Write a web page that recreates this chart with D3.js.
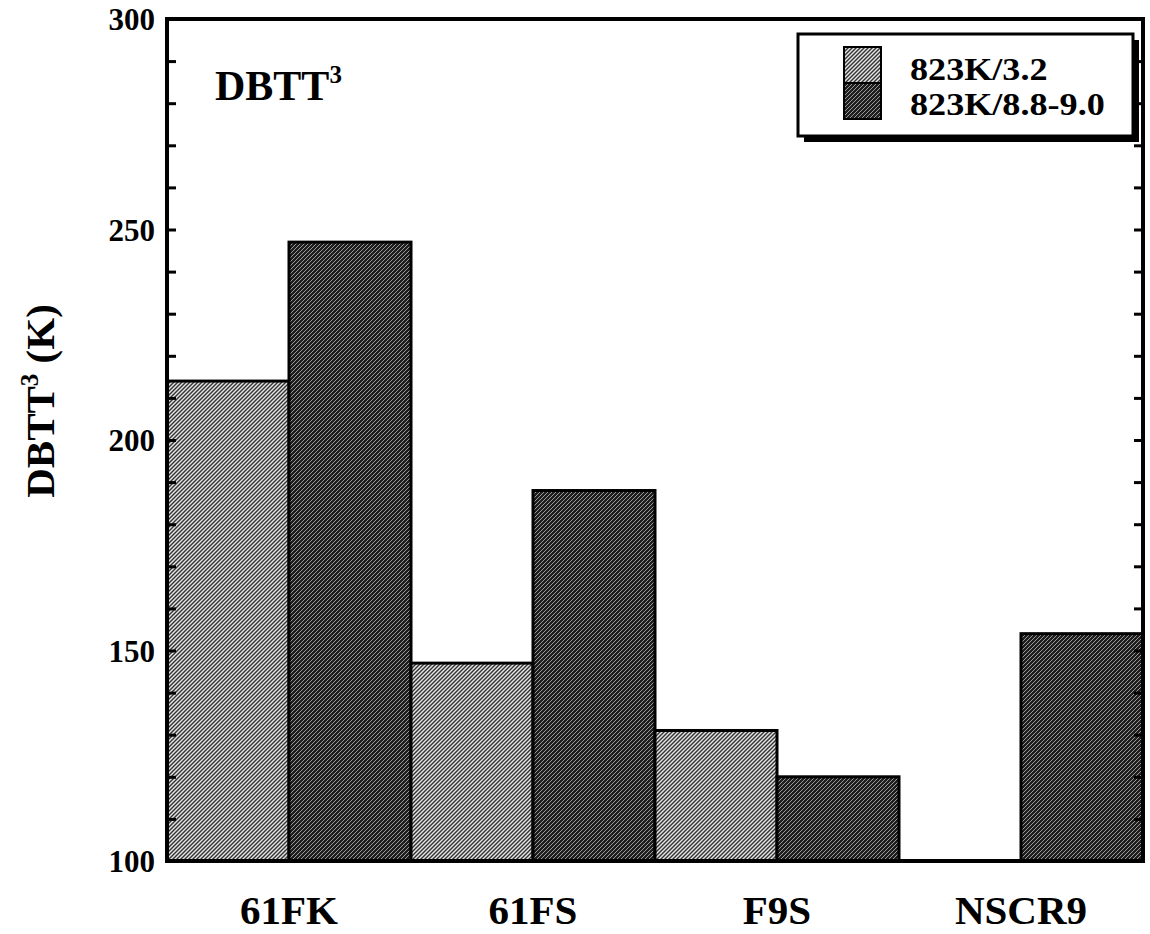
<!DOCTYPE html>
<html><head><meta charset="utf-8">
<script src="https://cdn.jsdelivr.net/npm/d3@7"></script>
<style>body{margin:0;background:#fff}</style>
</head><body>
<svg id="c" width="1150" height="934"></svg>
<script>
const categories = ["61FK","61FS","F9S","NSCR9"];
const seriesNames = ["823K/3.2","823K/8.8-9.0"];
const series1 = [214, 147, 131, null];
const series2 = [247, 188, 120, 154];
const yTicks = [100,150,200,250,300];

const svg = d3.select("#c");
const L=167, R=1143, T=19, B=861;
const font = "'Liberation Serif','Times New Roman',serif";

const defs = svg.append("defs");
function pat(id, bg, fg, sw){
  const p = defs.append("pattern").attr("id",id).attr("patternUnits","userSpaceOnUse")
    .attr("width",4).attr("height",4);
  p.append("rect").attr("width",4).attr("height",4).attr("fill",bg);
  p.append("path").attr("d","M-1,1 l2,-2 M0,4 l4,-4 M3,5 l2,-2").attr("stroke",fg).attr("stroke-width",sw);
}
pat("pLight","#e4e4e4","#333",1.4);
pat("pDark","#1e1e1e","#9a9a9a",1.0);
const fills = ["url(#pLight)","url(#pDark)"];

const x0 = d3.scaleBand().domain(categories).range([L,R]).padding(0);
const x1 = d3.scaleBand().domain([0,1]).range([0,x0.bandwidth()]).padding(0);
const y = d3.scaleLinear().domain([100,300]).range([B,T]);

const data = [];
categories.forEach((c,i)=>{
  [series1,series2].forEach((s,j)=>{ if(s[i]!=null) data.push({c, j, v:s[i]}); });
});
svg.append("g").selectAll("rect").data(data).join("rect")
  .attr("x",d=>x0(d.c)+x1(d.j)).attr("width",x1.bandwidth())
  .attr("y",d=>y(d.v)).attr("height",d=>y(100)-y(d.v))
  .attr("fill",d=>fills[d.j]).attr("stroke","#000").attr("stroke-width",3);

// frame
svg.append("rect").attr("x",L).attr("y",T).attr("width",R-L).attr("height",B-T)
  .attr("fill","none").attr("stroke","#000").attr("stroke-width",4);

// ticks inward on both sides
const minor = d3.range(100,301,10);
const yl = d3.axisRight(y).tickValues(minor).tickSize(9).tickFormat("");
svg.append("g").attr("transform",`translate(${L},0)`).call(yl)
  .call(g=>{g.select(".domain").remove(); g.selectAll("line").attr("stroke","#000").attr("stroke-width",3);});
const yr = d3.axisLeft(y).tickValues(minor).tickSize(9).tickFormat("");
svg.append("g").attr("transform",`translate(${R},0)`).call(yr)
  .call(g=>{g.select(".domain").remove(); g.selectAll("line").attr("stroke","#000").attr("stroke-width",3);});
// tick labels
const ya = d3.axisLeft(y).tickValues(yTicks).tickSize(0).tickPadding(12).tickFormat(d3.format("d"));
svg.append("g").attr("transform",`translate(${L},0)`).call(ya)
  .call(g=>{g.select(".domain").remove();
    g.selectAll("text").attr("font-family",font).attr("font-weight","bold").attr("font-size",31).attr("fill","#000").attr("dy","0.35em");});

// x labels
const xa = d3.axisBottom(x0).tickSize(0).tickPadding(34);
svg.append("g").attr("transform",`translate(0,${B})`).call(xa)
  .call(g=>{g.select(".domain").remove();
    g.selectAll("text").attr("font-family",font).attr("font-weight","bold").attr("font-size",41).attr("fill","#000");});

// in-plot title
const t = svg.append("text").attr("x",215).attr("y",100).attr("font-family",font).attr("font-weight","bold").attr("font-size",42);
t.append("tspan").text("DBTT");
t.append("tspan").attr("font-size",25).attr("dy",-17).text("3");

// y label
const yt = svg.append("text").attr("transform","translate(54,401) rotate(-90)").attr("text-anchor","middle")
  .attr("font-family",font).attr("font-weight","bold").attr("font-size",41);
yt.append("tspan").text("DBTT");
yt.append("tspan").attr("font-size",25).attr("dy",-16).text("3");
yt.append("tspan").attr("dy",16).text(" (K)");

// legend
const lg = svg.append("g");
lg.append("rect").attr("x",804).attr("y",40).attr("width",335).attr("height",102).attr("fill","#000");
lg.append("rect").attr("x",798).attr("y",34).attr("width",335).attr("height",102).attr("fill","#fff").attr("stroke","#000").attr("stroke-width",3);
seriesNames.forEach((n,i)=>{
  lg.append("rect").attr("x",844).attr("y",47+i*36).attr("width",37).attr("height",36)
    .attr("fill",fills[i]).attr("stroke","#000").attr("stroke-width",2);
  lg.append("text").attr("transform",`translate(910,${80+i*35}) scale(1.13,1)`).attr("font-family",font).attr("font-weight","bold")
    .attr("font-size",32).text(n);
});
</script>
</body></html>
